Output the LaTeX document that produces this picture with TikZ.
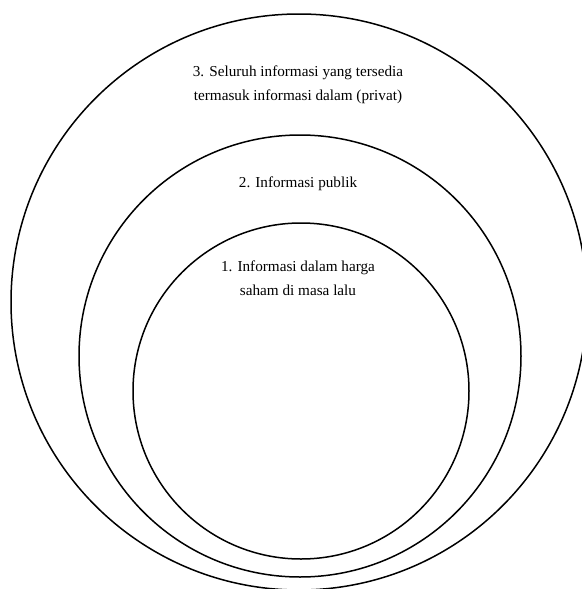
\documentclass[tikz,border=0pt]{standalone}
\usepackage{fontspec}
\setmainfont{Liberation Serif}
\begin{document}
\begin{tikzpicture}[x=1pt,y=-1pt,
  ring/.style={draw=black,line width=1.5pt},
  lbl/.style={font=\fontsize{15.2}{24}\selectfont,align=center,inner sep=0pt}]
\useasboundingbox (0,0) rectangle (581,589);
\node[ring,circle,minimum size=576pt,inner sep=0pt] (outer) at (299,302) {};
\node[ring,circle,minimum size=442pt,inner sep=0pt] (middle) at (300,356) {};
\node[ring,circle,minimum size=336pt,inner sep=0pt] (inner) at (301,391) {};
\node[lbl] (t3) at (298,85) {3. Seluruh informasi yang tersedia\\termasuk informasi dalam (privat)};
\node[lbl] (t2) at (298,184) {2. Informasi publik};
\node[lbl] (t1) at (298,278) {1. Informasi dalam harga\\saham di masa lalu};
\end{tikzpicture}
\end{document}
